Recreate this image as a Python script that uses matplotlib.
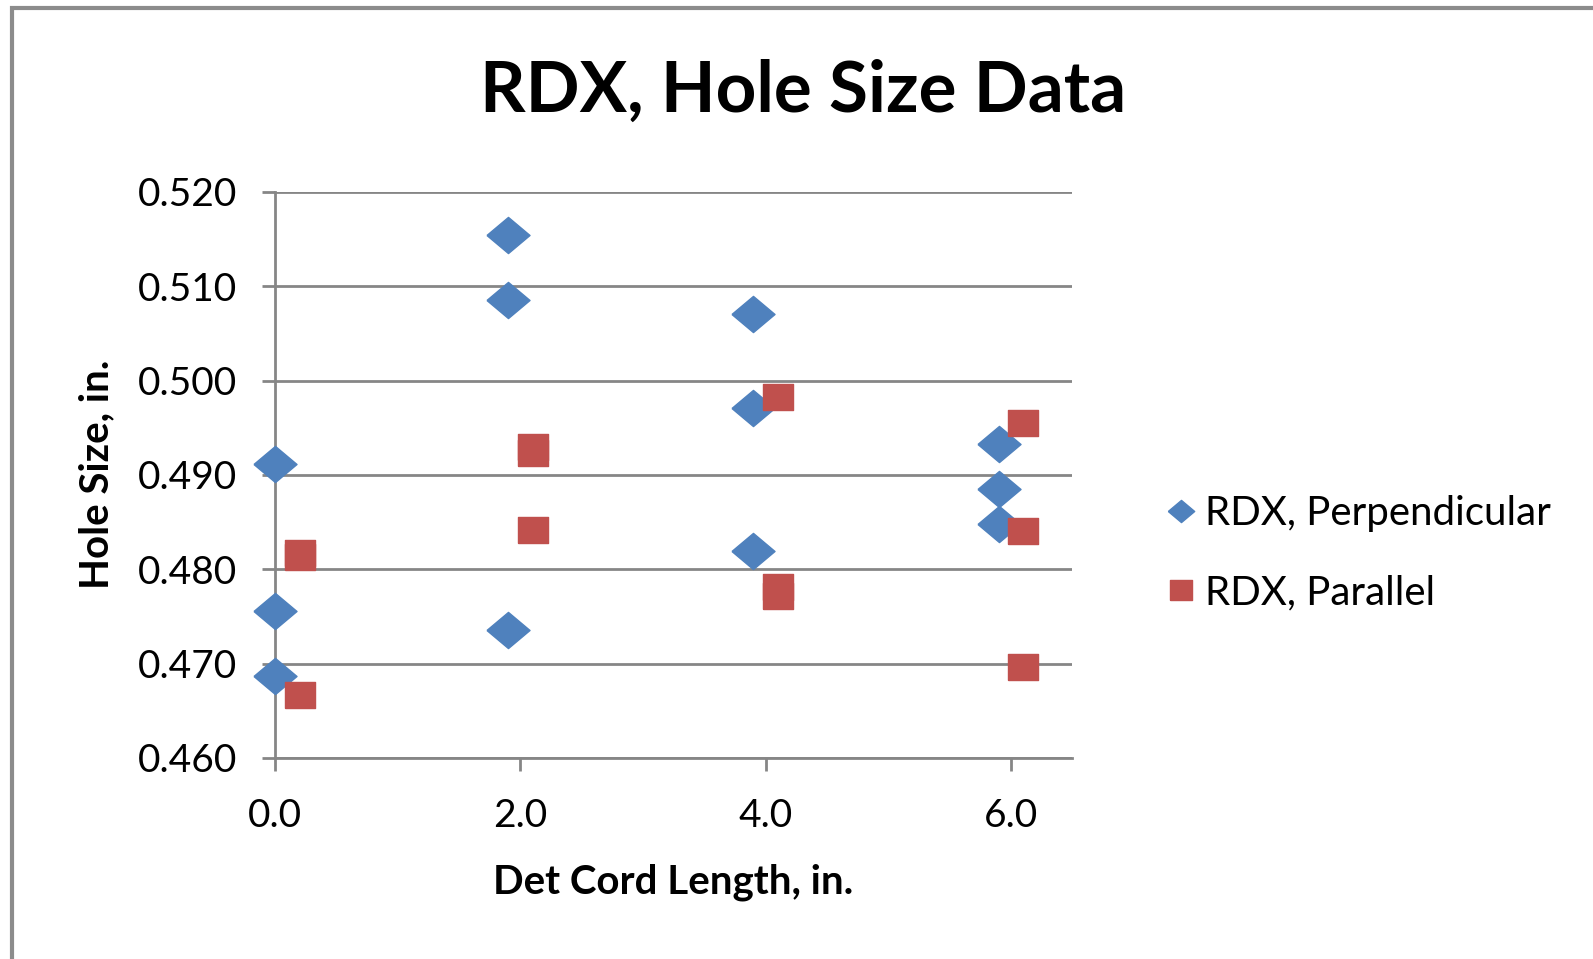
import matplotlib.pyplot as plt
from matplotlib.patches import Rectangle

# RDX hole size data
perp_x = [0.0, 0.0, 0.0, 1.9, 1.9, 1.9, 3.9, 3.9, 3.9, 5.9, 5.9, 5.9]
perp_y = [0.4912, 0.4756, 0.4687, 0.5154, 0.5085, 0.4736,
          0.5071, 0.4971, 0.4819, 0.4933, 0.4885, 0.4848]

par_x = [0.2, 0.2, 0.2, 2.1, 2.1, 2.1, 4.1, 4.1, 4.1, 6.1, 6.1, 6.1]
par_y = [0.4817, 0.4813, 0.4667, 0.4930, 0.4923, 0.4842,
         0.4983, 0.4781, 0.4772, 0.4955, 0.4841, 0.4696]

x_ticks = [0.0, 2.0, 4.0, 6.0]
y_ticks = [0.460, 0.470, 0.480, 0.490, 0.500, 0.510, 0.520]

blue = '#4F81BD'
red = '#C0504D'
grid_col = '#868686'
diamond = [(-1, 0), (0, 0.84), (1, 0), (0, -0.84), (-1, 0)]
square = [(-1, -0.86), (1, -0.86), (1, 0.86), (-1, 0.86), (-1, -0.86)]

plt.rcParams['font.family'] = ['Lato', 'DejaVu Sans']

fig = plt.figure(figsize=(15.93, 9.59), dpi=100)
ax = fig.add_axes([0.1728, 0.2096, 0.5002, 0.5904])

ax.plot(perp_x, perp_y, linestyle='none', marker=diamond, markersize=31,
        color=blue, clip_on=False, zorder=3)
ax.plot(par_x, par_y, linestyle='none', marker=square, markersize=21,
        color=red, clip_on=False, zorder=3)

ax.set_xlim(0, 6.5)
ax.set_ylim(0.460, 0.520)
ax.set_xticks(x_ticks)
ax.set_xticklabels(['%.1f' % v for v in x_ticks])
ax.set_yticks(y_ticks)
ax.set_yticklabels(['%.3f' % v for v in y_ticks])

ax.yaxis.grid(True, color=grid_col, linewidth=2)
ax.set_axisbelow(True)
for s in ['top', 'right']:
    ax.spines[s].set_visible(False)
for s in ['left', 'bottom']:
    ax.spines[s].set_color(grid_col)
    ax.spines[s].set_linewidth(2)
ax.tick_params(axis='both', colors=grid_col, length=9.5, width=2,
               labelsize=28, labelcolor='black')
ax.tick_params(axis='y', pad=18)
ax.tick_params(axis='x', pad=19)

fig.text(0.504, 0.905, 'RDX, Hole Size Data', ha='center', va='center',
         fontsize=51, fontweight='bold')
fig.text(0.4225, 0.080, 'Det Cord Length, in.', ha='center', va='center',
         fontsize=29, fontweight='bold')
fig.text(0.0606, 0.505, 'Hole Size, in.', ha='center', va='center',
         rotation=90, fontsize=29, fontweight='bold')

# legend
h1, = ax.plot([], [], linestyle='none', marker=diamond, markersize=19, color=blue)
h2, = ax.plot([], [], linestyle='none', marker=square, markersize=16, color=red)
fig.legend([h1, h2], ['RDX, Perpendicular', 'RDX, Parallel'],
           loc='center left', bbox_to_anchor=(0.722, 0.4234), frameon=False,
           fontsize=29, handlelength=0.55, handletextpad=0.3,
           labelspacing=1.05, borderpad=0)

# chart frame
fig.patches.append(Rectangle((0.0075, -0.05), 1.1, 1.05 - 0.0083,
                             transform=fig.transFigure, fill=False,
                             edgecolor='#8C8C8C', linewidth=3))

fig.savefig('out.png', dpi=100)
